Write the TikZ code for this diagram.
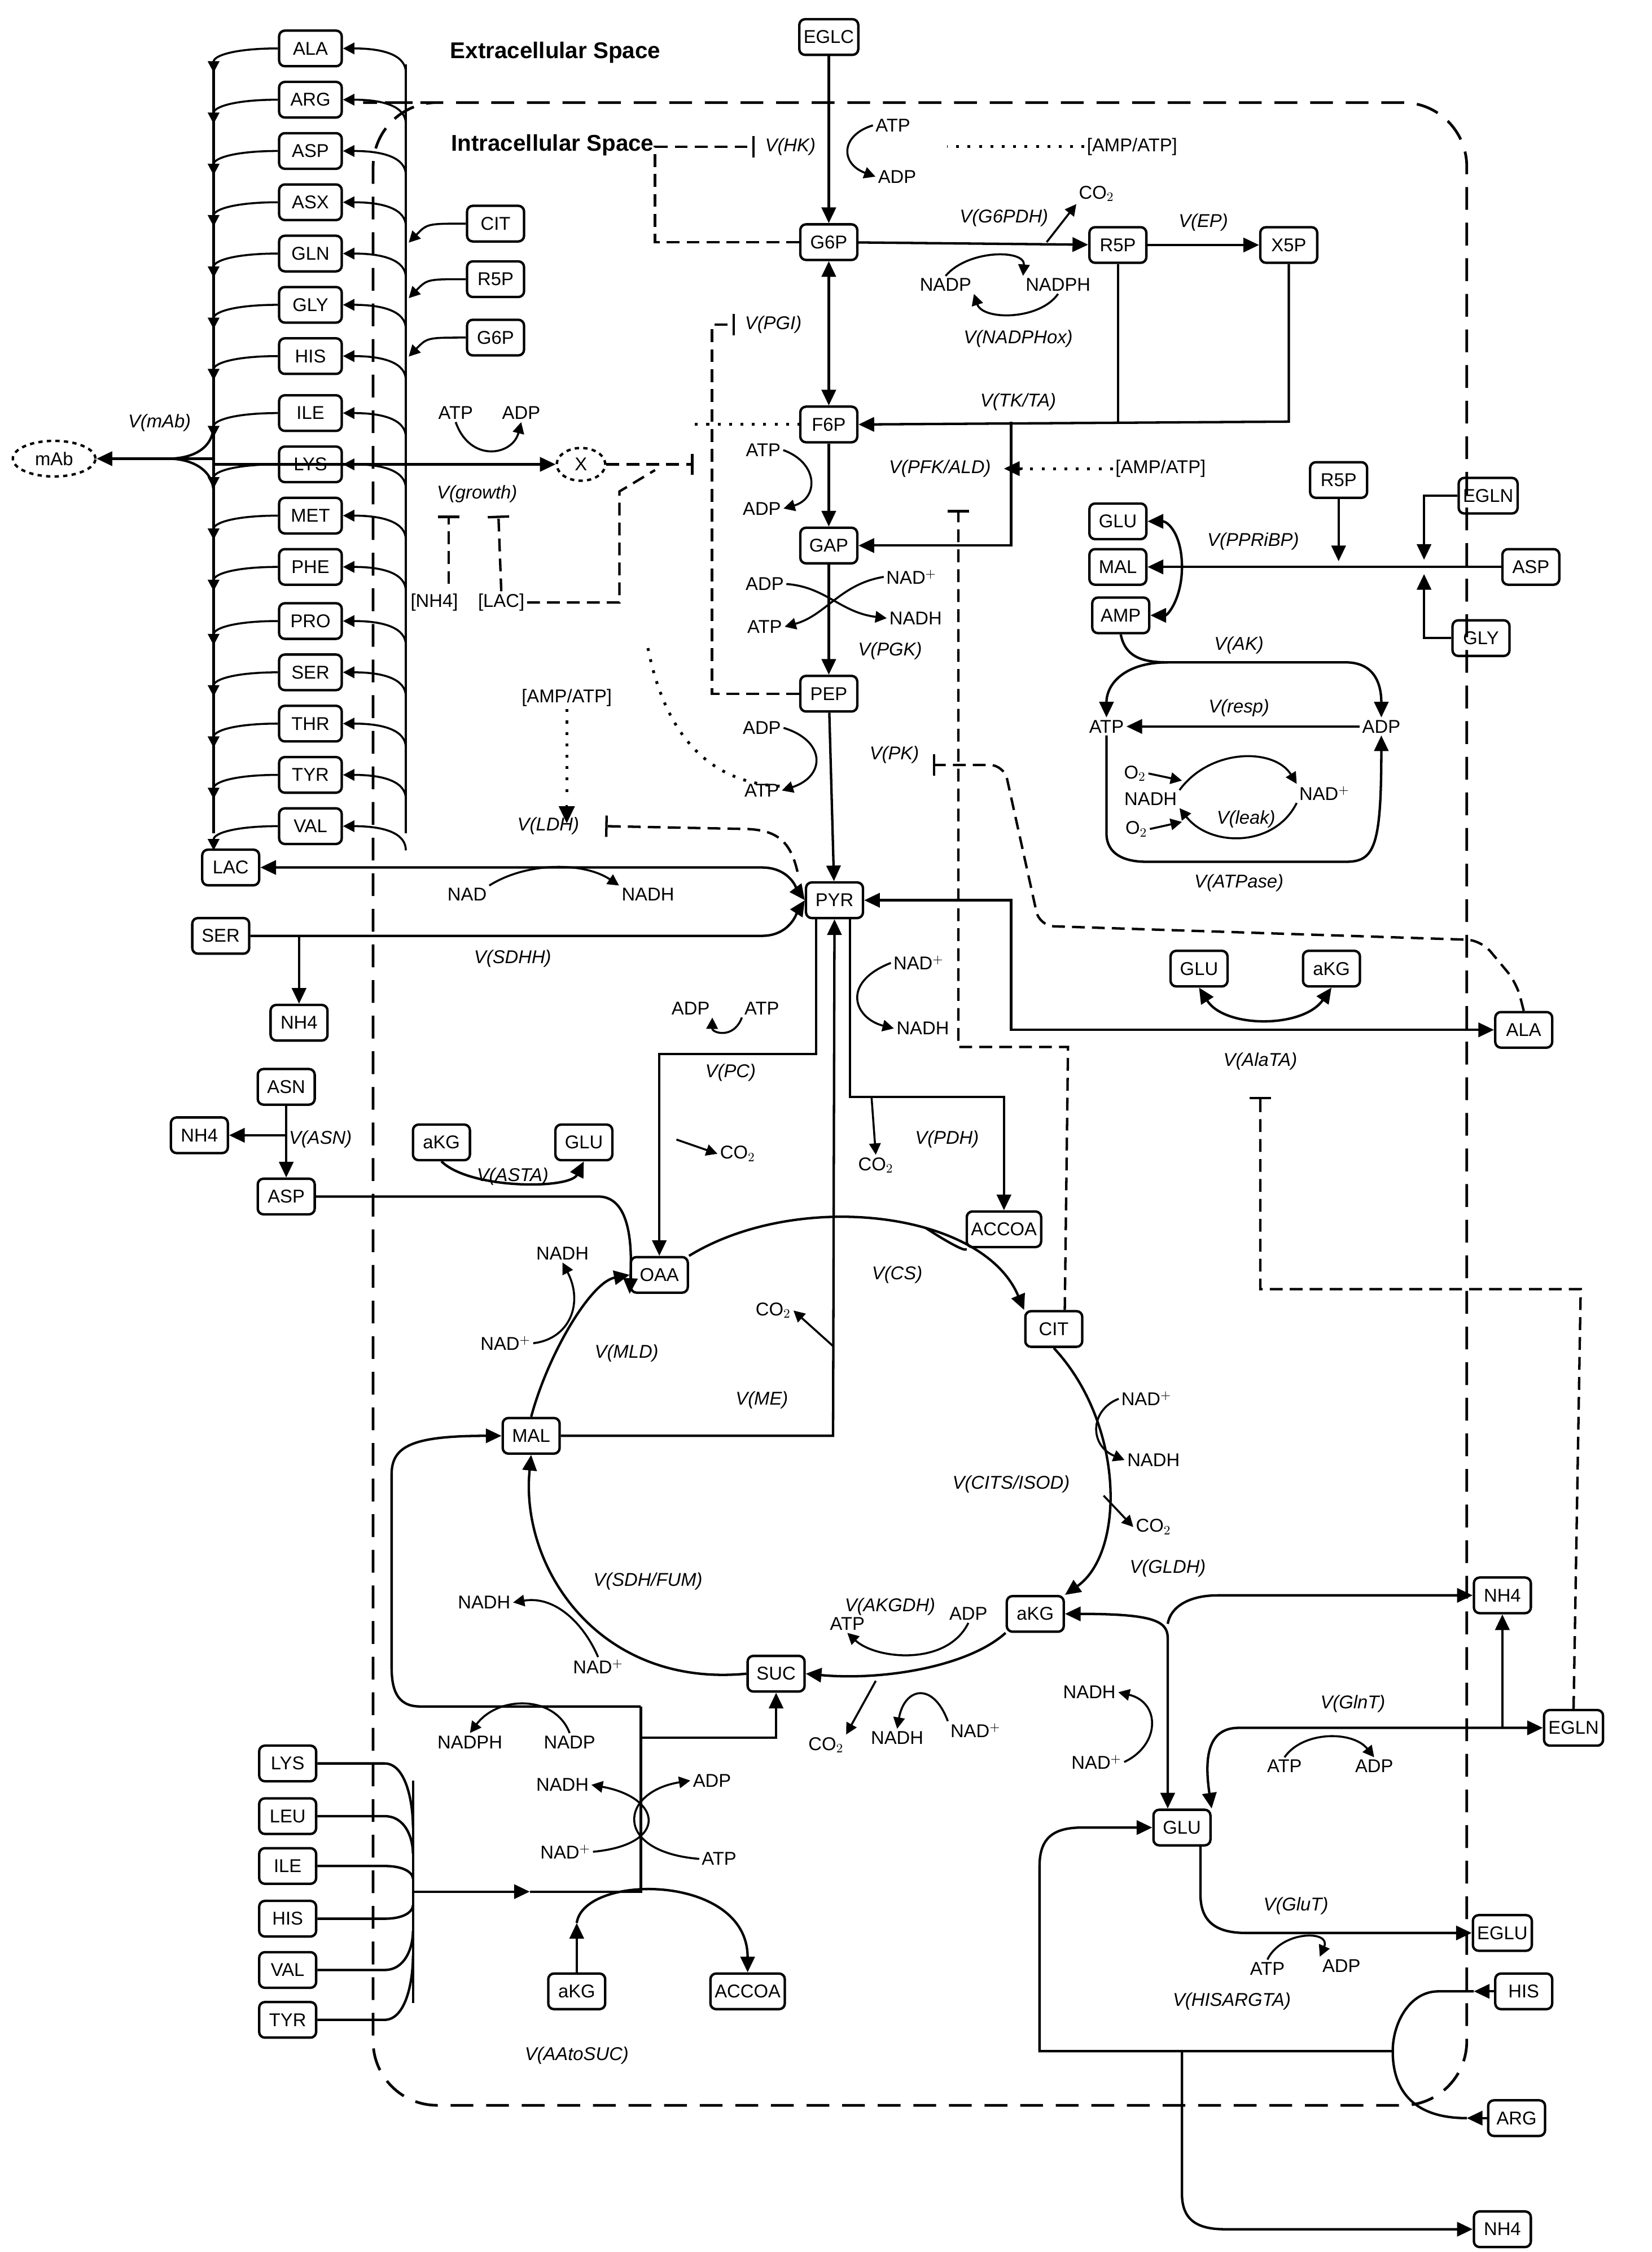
\documentclass[tikz,border=0pt]{standalone}
\usepackage{fontspec}\setmainfont{Liberation Sans}
\usetikzlibrary{arrows.meta,shapes.geometric}
\begin{document}
\begin{tikzpicture}[x=1pt,y=-1pt,line width=1.7pt,
 box/.style={draw,rounded corners=4pt,minimum width=40pt,minimum height=25pt,inner sep=3pt,font=\fontsize{13}{15}\selectfont},
 t/.style={font=\fontsize{13}{15}\selectfont,inner sep=1pt},
 v/.style={font=\itshape\fontsize{13}{15}\selectfont,inner sep=1pt},
 a/.style={-{Triangle[length=11pt,width=10pt]}},
 ab/.style={{Triangle[length=11pt,width=10pt]}-{Triangle[length=11pt,width=10pt]}},
 inh/.style={-{Bar[width=15pt]}},
 sa/.style={-{Triangle[length=8pt,width=8pt]},line width=1.4pt},
 dsh/.style={dash pattern=on 9pt off 5pt},
 dot/.style={dash pattern=on 2pt off 6pt,line width=2pt},
 ]
\useasboundingbox (0,0) rectangle (1160,1581);
% cell boundary
\draw[line width=1.9pt,dash pattern=on 16pt off 9pt,rounded corners=45pt] (300,72) -- (1030,72) -- (1030,1478) -- (262,1478) -- (262,72) -- cycle;
\node[font=\bfseries\fontsize{16}{18}\selectfont] (ext) at (390,37) {Extracellular Space};
\node[font=\bfseries\fontsize{16}{18}\selectfont] (int) at (388,102) {Intracellular Space};
% amino acid column
\draw (150,45) -- (150,585); \draw (285,45) -- (285,585);
\foreach \n/\y in {ALA/34,ARG/70,ASP/106,ASX/142,GLN/178,GLY/214,HIS/250,ILE/290,LYS/326,MET/362,PHE/398,PRO/436,SER/472,THR/508,TYR/544,VAL/580}{
 \node[box,fill=white,minimum width=44pt] (aa\n) at (218,\y) {\n};
 \draw[sa] (aa\n.west) .. controls (165,\y) and (150,{\y+5}) .. (150,{\y+17});
 \draw[sa] (285,{\y+17}) .. controls (285,{\y+5}) and (270,\y) .. (aa\n.east);
}
\node[draw,dashed,ellipse,minimum width=58pt,minimum height=25pt,font=\fontsize{13}{15}\selectfont] (mAb) at (38,322) {mAb};
\draw[a] (150,322) -- (mAb.east);
\draw (150,298) .. controls (150,315) and (135,322) .. (118,322);
\draw (150,346) .. controls (150,330) and (135,322) .. (118,322);
\node[v] (vmab) at (112,297) {V(mAb)};
\node[draw,dashed,ellipse,minimum width=34pt,minimum height=23pt,font=\fontsize{13}{15}\selectfont] (X) at (408,326) {X};
\draw[a] (150,326) -- (X.west);
\node[box] (CITb) at (348,157) {CIT};
\node[box] (R5Pb) at (348,196) {R5P};
\node[box] (G6Pb) at (348,237) {G6P};
\foreach \n in {CITb,R5Pb,G6Pb}{\draw[sa] (\n.west) .. controls (300,0|-\n.west) .. (287,0|-\n.south);}
\node[t] (atp12) at (320,290) {ATP};
\node[t] (adp12) at (366,290) {ADP};
\draw[sa] (atp12.south) .. controls (330,325) and (360,320) .. (adp12.south);
\node[v] (vgr) at (335,347) {V(growth)};
\node[t] (nh4g) at (305,423) {[NH4]};
\node[t] (lacg) at (352,423) {[LAC]};
\draw[dsh,inh] (315,410) -- (315,362);
\draw[dsh,inh] (lacg.north) -- (350,362);
\draw[dsh] (lacg.east) -- (435,423) -- (435,345) -- (460,330);
\draw[dsh,inh] (X.east) -- (487,326);
% glycolysis
\node[box] (EGLC) at (582,26) {EGLC};
\node[box] (G6P) at (582,170) {G6P};
\node[box] (F6P) at (582,298) {F6P};
\node[box] (GAP) at (582,383) {GAP};
\node[box] (PEP) at (582,487) {PEP};
\node[box] (PYR) at (586,632) {PYR};
\draw[a] (EGLC) -- (G6P); \draw[ab] (G6P) -- (F6P); \draw[a] (F6P) -- (GAP); \draw[a] (GAP) -- (PEP); \draw[a] (PEP) -- (PYR);
\node[v] (vHK) at (555,103) {V(HK)};
\node[t] (atp1) at (627,88) {ATP};
\node[t] (adp1) at (630,124) {ADP};
\draw[sa] (atp1.west) .. controls (590,95) and (590,115) .. (adp1.west);
\node[t] (amp1) at (795,103) {[AMP/ATP]};
\draw[dot] (amp1.west) -- (665,103);
\draw[dsh,inh] (G6P.west) -- (460,170) -- (460,103) -- (530,103);
\node[box] (R5Pa) at (785,172) {R5P};
\node[box] (X5P) at (905,172) {X5P};
\draw[a] (G6P) -- (R5Pa); \draw[a] (R5Pa) -- (X5P);
\node[v] (vg6pdh) at (705,153) {V(G6PDH)};
\node[t] (co2a) at (770,136) {CO$_2$};
\draw[sa] (735,170) -- (co2a.south west);
\node[v] (vep) at (845,156) {V(EP)};
\node[t] (nadp1) at (664,200) {NADP};
\node[t] (nadph1) at (743,200) {NADPH};
\draw[sa] (nadp1.north) .. controls (680,175) and (720,175) .. (nadph1.north west);
\draw[sa] (nadph1.south) .. controls (730,225) and (690,225) .. (nadp1.south east);
\node[v] (vnadph) at (715,238) {V(NADPHox)};
\draw[a] (X5P.south) -- (905,296) -- (F6P.east);
\draw (R5Pa.south) -- (785,296);
\draw[a] (710,296) -- (710,383) -- (GAP.east);
\node[v] (vtk) at (715,282) {V(TK/TA)};
\node[v] (vpgi) at (543,228) {V(PGI)};
\draw[dsh,inh] (PEP.west) -- (500,487) -- (500,228) -- (516,228);
\node[t] (atp2) at (536,316) {ATP};
\node[t] (adp2) at (535,357) {ADP};
\draw[sa] (atp2.east) .. controls (575,325) and (575,350) .. (adp2.east);
\node[v] (vpfk) at (660,329) {V(PFK/ALD)};
\node[t] (amp2) at (815,329) {[AMP/ATP]};
\draw[dot] (amp2.west) -- (715,329);
\draw[-{Triangle[length=11pt,width=10pt]}] (718,329) -- (705,329);
\draw[dot] (488,298) -- (F6P.west);
\draw[dot] (455,455) .. controls (470,530) and (510,550) .. (548,552);
\node[t] (adp3) at (537,410) {ADP};
\node[t] (atp3) at (537,440) {ATP};
\node[t] (nad1) at (640,405) {NAD$^+$};
\node[t] (nadh1) at (643,434) {NADH};
\draw[sa] (adp3.east) .. controls (580,412) and (590,430) .. (nadh1.west);
\draw[sa] (nad1.west) .. controls (590,410) and (580,432) .. (atp3.east);
\node[v] (vpgk) at (625,457) {V(PGK)};
\node[t] (adp4) at (535,511) {ADP};
\node[t] (atp4) at (535,555) {ATP};
\draw[sa] (adp4.east) .. controls (580,520) and (580,545) .. (atp4.east);
\node[v] (vpk) at (628,530) {V(PK)};
\node[t] (amp3) at (398,490) {[AMP/ATP]};
\draw[dot] (amp3.south) -- (398,560);
\draw[-{Triangle[length=12pt,width=11pt]}] (398,565) -- (398,578);
\node[v] (vldh) at (385,580) {V(LDH)};
\draw[dsh,inh] (560,612) .. controls (555,590) and (545,583) .. (525,582) -- (425,580);
\node[box] (LAC) at (162,609) {LAC};
\node[box] (SER) at (155,657) {SER};
\draw[ab] (LAC.east) -- (535,609) .. controls (555,609) and (560,625) .. (PYR.west);
\draw[a] (SER.east) -- (535,657) .. controls (555,657) and (560,640) .. (PYR.west);
\node[t] (nad2) at (328,628) {NAD};
\node[t] (nadh2) at (455,628) {NADH};
\draw[sa] (nad2.north east) .. controls (370,605) and (410,605) .. (nadh2.north west);
\node[v] (vsdhh) at (360,673) {V(SDHH)};
\node[box] (NH4a) at (210,718) {NH4};
\draw[a] (210,657) -- (NH4a);
\node[box] (ALA) at (1070,723) {ALA};
\draw[ab] (PYR.east) -- (710,632) -- (710,723) -- (ALA.west);
\node[box] (GLUb) at (842,680) {GLU};
\node[box] (aKGb) at (935,680) {aKG};
\draw[ab] (GLUb.south) .. controls (860,722) and (915,722) .. (aKGb.south);
\node[v] (vala) at (885,745) {V(AlaTA)};
\draw[dsh,inh,rounded corners=10pt] (ALA.north) -- (1065,690) -- (1040,660) -- (730,650) -- (705,537) -- (655,537);
\node[t] (nad3) at (645,676) {NAD$^+$};
\node[t] (nadh3) at (648,722) {NADH};
\draw[sa] (nad3.west) .. controls (590,690) and (600,715) .. (nadh3.west);
% PC / PDH / ME
\node[box] (OAA) at (463,895) {OAA};
\node[box] (ACCOA) at (705,863) {ACCOA};
\node[box] (CIT) at (740,933) {CIT};
\node[box] (aKG) at (727,1133) {aKG};
\node[box] (SUC) at (545,1175) {SUC};
\node[box] (MAL) at (373,1008) {MAL};
\draw[a] (573,0 |- PYR.south) -- (573,740) -- (463,740) -- (OAA.north);
\node[t] (adp5) at (485,708) {ADP};
\node[t] (atp5) at (535,708) {ATP};
\draw[sa] (atp5.south west) .. controls (515,730) and (500,725) .. (adp5.south east);
\node[v] (vpc) at (513,753) {V(PC)};
\node[t] (co2b) at (518,810) {CO$_2$};
\draw[sa] (475,800) -- (co2b.west);
\draw[a] (597,0 |- PYR.south) -- (597,770) -- (705,770) -- (ACCOA.north);
\node[t] (co2c) at (615,818) {CO$_2$};
\draw[sa] (612,770) -- (co2c.north);
\node[v] (vpdh) at (665,800) {V(PDH)};
\draw[a] (MAL.east) -- (585,1008) -- (PYR.south);
\node[v] (vme) at (535,983) {V(ME)};
\node[t] (co2d) at (543,920) {CO$_2$};
\draw[sa] (585,945) -- (co2d.east);
\draw[dsh,inh] (CIT.60) -- (750,735) -- (673,735) -- (673,358);
% TCA
\draw[a] (OAA.north east) .. controls (560,835) and (690,850) .. (CIT.north west);
\draw (ACCOA.south west) .. controls (680,880) and (665,872) .. (650,862);
\node[v] (vcs) at (630,895) {V(CS)};
\draw[a] (CIT.south) .. controls (790,1000) and (790,1090) .. (aKG.north east);
\node[v] (vcits) at (710,1042) {V(CITS/ISOD)};
\node[t] (nad4) at (805,982) {NAD$^+$};
\node[t] (nadh4) at (810,1025) {NADH};
\node[t] (co2e) at (810,1072) {CO$_2$};
\draw[sa] (nad4.west) .. controls (765,990) and (765,1015) .. (nadh4.west);
\draw[sa] (775,1050) -- (co2e.west);
\draw[a] (aKG.south west) .. controls (680,1170) and (620,1180) .. (SUC.east);
\node[v] (vakgdh) at (625,1128) {V(AKGDH)};
\node[t] (atp6) at (595,1140) {ATP};
\node[t] (adp6) at (680,1133) {ADP};
\draw[sa] (adp6.south) .. controls (665,1170) and (615,1165) .. (atp6.south);
\node[t] (nadh6) at (630,1220) {NADH};
\node[t] (nad6) at (685,1215) {NAD$^+$};
\draw[sa] (nad6.north west) .. controls (655,1180) and (635,1185) .. (nadh6.north);
\node[t] (co2f) at (580,1225) {CO$_2$};
\draw[sa] (615,1180) -- (co2f.north east);
\draw[a] (SUC.west) .. controls (420,1185) and (365,1100) .. (MAL.south);
\node[v] (vsdh) at (455,1110) {V(SDH/FUM)};
\node[t] (nadh7) at (340,1125) {NADH};
\node[t] (nad7) at (420,1170) {NAD$^+$};
\draw[sa] (nad7.north) .. controls (410,1140) and (390,1120) .. (nadh7.east);
\draw[a] (MAL.north) .. controls (385,950) and (415,900) .. (OAA.west);
\node[v] (vmld) at (440,950) {V(MLD)};
\node[t] (nadh8) at (395,880) {NADH};
\node[t] (nad8) at (355,943) {NAD$^+$};
\draw[sa] (nad8.east) .. controls (400,940) and (410,915) .. (nadh8.south);
% ASN / ASTA
\node[box] (ASN) at (201,763) {ASN};
\node[box] (NH4b) at (140,797) {NH4};
\node[box] (ASPb) at (201,840) {ASP};
\draw[a] (ASN) -- (ASPb); \draw[a] (201,797) -- (NH4b);
\node[v] (vasn) at (225,800) {V(ASN)};
\node[box] (aKGc) at (310,802) {aKG};
\node[box] (GLUc) at (410,802) {GLU};
\draw[a] (aKGc.south) .. controls (330,835) and (400,835) .. (GLUc.south);
\node[v] (vasta) at (360,826) {V(ASTA)};
\draw[a] (ASPb.east) -- (420,840) .. controls (435,840) and (445,855) .. (OAA.south west);
% AAtoSUC
\draw (290,1250) -- (290,1406);
\foreach \n/\y in {LYS/1238,LEU/1275,ILE/1310,HIS/1347,VAL/1383,TYR/1418}{
 \node[box] (bb\n) at (202,\y) {\n};
 \draw (bb\n.east) -- (270,\y) .. controls (285,\y) and (290,{\y+(1328-\y)*0.3}) .. (290,{\y+(1328-\y)*0.5});
}
\draw[a] (290,1328) -- (372,1328);
\draw (372,1328) -- (450,1328) -- (450,1198);
\draw[a] (450,1198) -- (295,1198) .. controls (278,1198) and (275,1185) .. (275,1170) -- (275,1035) .. controls (275,1015) and (290,1008) .. (MAL.west);
\draw[a] (450,1220) -- (545,1220) -- (SUC.south);
\node[box] (aKGd) at (405,1398) {aKG};
\node[box] (ACCOAb) at (525,1398) {ACCOA};
\draw[a] (aKGd.north) -- (405,1350);
\draw[a] (405,1350) .. controls (410,1315) and (525,1315) .. (ACCOAb.north);
\node[t] (nadh9) at (395,1253) {NADH};
\node[t] (adp9) at (500,1250) {ADP};
\node[t] (nad9) at (397,1300) {NAD$^+$};
\node[t] (atp9) at (505,1305) {ATP};
\draw[sa] (nad9.east) .. controls (470,1295) and (465,1262) .. (nadh9.east);
\draw[sa] (atp9.west) .. controls (430,1300) and (435,1258) .. (adp9.west);
\node[t] (nadph9) at (330,1223) {NADPH};
\node[t] (nadp9) at (400,1223) {NADP};
\draw[sa] (nadp9.north) .. controls (390,1190) and (350,1190) .. (nadph9.north);
\node[v] (vaatosuc) at (405,1443) {V(AAtoSUC)};
% nucleotide module
\node[box] (GLUr) at (785,366) {GLU};
\node[box] (MALr) at (785,398) {MAL};
\node[box] (AMP) at (787,432) {AMP};
\node[box] (R5Pr) at (940,337) {R5P};
\node[box] (EGLNr) at (1045,348) {EGLN};
\node[box] (ASPr) at (1075,398) {ASP};
\node[box] (GLYr) at (1040,448) {GLY};
\draw[a] (ASPr.west) -- (MALr.east);
\draw[a] (R5Pr.south) -- (940,394);
\draw[a] (EGLNr.west) -- (1000,348) -- (1000,393);
\draw[a] (GLYr.west) -- (1000,448) -- (1000,403);
\draw[a] (830,398) .. controls (830,375) and (820,366) .. (GLUr.east);
\draw[a] (830,398) .. controls (830,420) and (820,432) .. (AMP.east);
\node[v] (vpprib) at (880,380) {V(PPRiBP)};
\node[t] (atpr) at (777,510) {ATP};
\node[t] (adpr) at (970,510) {ADP};
\draw[a] (AMP.south) .. controls (790,460) and (800,465) .. (820,465) -- (945,465) .. controls (965,465) and (970,480) .. (adpr.north);
\draw[a] (820,465) .. controls (790,465) and (777,480) .. (atpr.north);
\node[v] (vak) at (870,453) {V(AK)};
\draw[a] (adpr.west) -- (atpr.east);
\node[v] (vresp) at (870,497) {V(resp)};
\node[t] (o2a) at (797,543) {O$_2$};
\node[t] (nadhr) at (808,561) {NADH};
\node[t] (nadr) at (930,557) {NAD$^+$};
\node[t] (o2b) at (798,582) {O$_2$};
\draw[sa] (nadhr.north east) .. controls (850,525) and (895,525) .. (nadr.north west);
\draw[sa] (nadr.south west) .. controls (895,595) and (850,595) .. (nadhr.south east);
\draw[sa] (o2a.east) -- (830,548);
\draw[sa] (o2b.east) -- (830,577);
\node[v] (vleak) at (875,575) {V(leak)};
\draw[a] (atpr.south) -- (777,585) .. controls (777,600) and (790,605) .. (805,605) -- (945,605) .. controls (965,605) and (970,595) .. (adpr.south);
\node[v] (vatpase) at (870,620) {V(ATPase)};
% lower right
\node[box] (NH4c) at (1055,1120) {NH4};
\node[box] (EGLN) at (1105,1213) {EGLN};
\node[box] (GLUe) at (830,1283) {GLU};
\node[box] (EGLU) at (1055,1357) {EGLU};
\node[box] (HIS) at (1070,1398) {HIS};
\node[box] (ARG) at (1065,1487) {ARG};
\node[box] (NH4d) at (1055,1565) {NH4};
\draw[dsh,inh] (EGLN.north) -- (1110,905) -- (885,905) -- (885,770);
\draw[ab] (820,0 |- GLUe.north) -- (820,1150) .. controls (820,1138) and (810,1133) .. (aKG.east);
\draw[a] (820,1140) .. controls (822,1128) and (835,1120) .. (855,1120) -- (NH4c.west);
\node[v] (vgldh) at (820,1101) {V(GLDH)};
\node[t] (nadhe) at (765,1188) {NADH};
\node[t] (nade) at (770,1237) {NAD$^+$};
\draw[sa] (nade.east) .. controls (815,1225) and (815,1195) .. (nadhe.east);
\draw[a] (1055,1213) -- (NH4c.south);
\draw[ab] (EGLN.west) -- (870,1213) .. controls (850,1213) and (845,1230) .. (GLUe.north east);
\node[v] (vglnt) at (950,1196) {V(GlnT)};
\node[t] (atpe) at (902,1240) {ATP};
\node[t] (adpe) at (965,1240) {ADP};
\draw[sa] (atpe.north) .. controls (915,1215) and (950,1215) .. (adpe.north);
\draw[a] (843,0 |- GLUe.south) -- (843,1330) .. controls (843,1350) and (855,1357) .. (875,1357) -- (EGLU.west);
\node[v] (vglut) at (910,1338) {V(GluT)};
\node[t] (atpf) at (890,1382) {ATP};
\node[t] (adpf) at (942,1380) {ADP};
\draw[sa] (atpf.north) .. controls (900,1355) and (935,1355) .. (adpf.north west);
\draw[a] (HIS.west) -- (1035,1398);
\draw[a] (ARG.west) -- (1030,1487);
\draw (1035,1398) -- (1010,1398) .. controls (990,1398) and (978,1420) .. (978,1440) .. controls (978,1465) and (990,1487) .. (1030,1487);
\draw[a] (978,1440) -- (730,1440) -- (730,1310) .. controls (730,1290) and (740,1283) .. (760,1283) -- (GLUe.west);
\draw[a] (830,1440) -- (830,1540) .. controls (830,1558) and (840,1565) .. (860,1565) -- (NH4d.west);
\node[v] (vhis) at (865,1405) {V(HISARGTA)};
\end{tikzpicture}
\end{document}
